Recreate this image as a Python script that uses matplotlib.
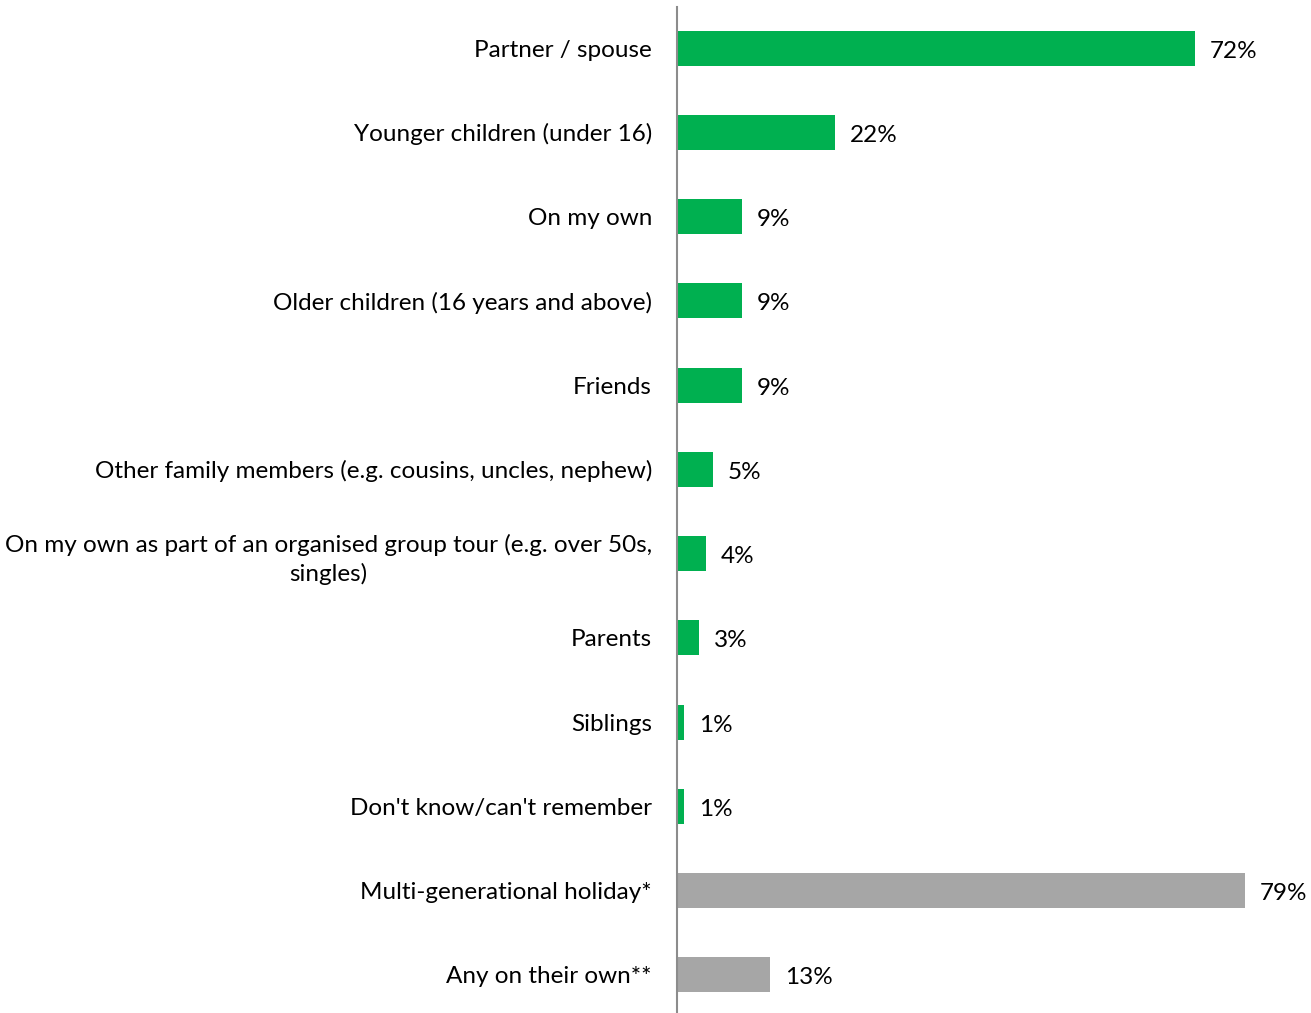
import matplotlib
matplotlib.use("Agg")
import matplotlib.pyplot as plt

categories = [
    "Partner / spouse",
    "Younger children (under 16)",
    "On my own",
    "Older children (16 years and above)",
    "Friends",
    "Other family members (e.g. cousins, uncles, nephew)",
    "On my own as part of an organised group tour (e.g. over 50s,\nsingles)",
    "Parents",
    "Siblings",
    "Don't know/can't remember",
    "Multi-generational holiday*",
    "Any on their own**",
]
values = [72, 22, 9, 9, 9, 5, 4, 3, 1, 1, 79, 13]
groups = ["who"] * 10 + ["summary"] * 2

palette = {"who": "#00B050", "summary": "#A6A6A6"}
font = ["Lato", "DejaVu Sans"]
fs = 17.5

fig = plt.figure(figsize=(13.11, 10.13), dpi=100)
ax = fig.add_axes([677 / 1311, -4 / 1013, 634 / 1311, 1011 / 1013])

ypos = list(range(len(categories)))
colors = [palette[g] for g in groups]
ax.barh(ypos, values, height=0.415, color=colors, zorder=2)
ax.set_ylim(len(categories) - 0.5, -0.5)
ax.set_xlim(0, 634 / 7.19)

for y, v in zip(ypos, values):
    ax.annotate(f"{v}%", xy=(v, y), xytext=(15, -1), textcoords="offset pixels",
                ha="left", va="center_baseline", fontsize=fs, family=font, color="#000000")

ax.set_yticks(ypos)
ax.set_yticklabels(categories, fontsize=fs, family=font, color="#000000")
for lbl in ax.get_yticklabels():
    lbl.set_multialignment("center")
    lbl.set_linespacing(1.4)
ax.tick_params(axis="y", length=0, pad=18)
ax.set_xticks([])

for s in ["top", "right", "bottom"]:
    ax.spines[s].set_visible(False)
ax.spines["left"].set_color("#8C8C8C")
ax.spines["left"].set_linewidth(1.5)
ax.spines["left"].set_bounds(len(categories) - 0.5, -0.49)

fig.savefig("out.png", dpi=100)
